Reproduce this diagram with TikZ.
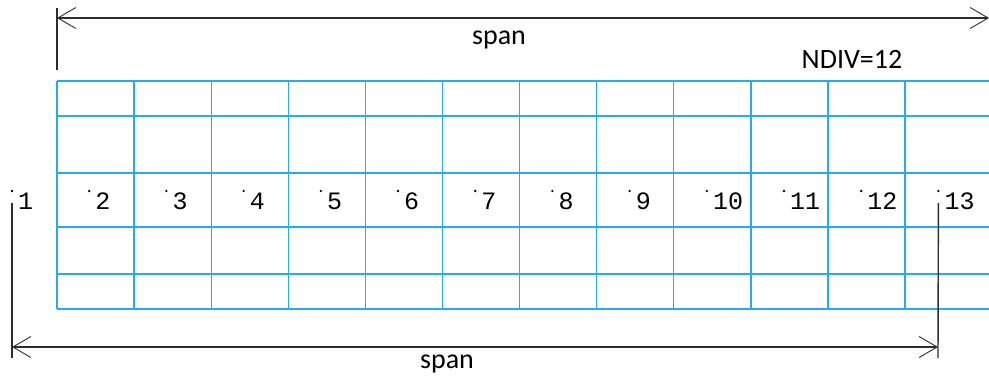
\documentclass[tikz,border=0pt]{standalone}
\usepackage{fontspec}
\setmainfont{Carlito}
\newfontfamily\ptfont{Liberation Mono}
\usepackage{tikz}
\usetikzlibrary{arrows.meta,positioning}

\definecolor{gridblue}{RGB}{40,172,232}
\definecolor{dimgray}{RGB}{45,45,45}

\tikzset{
  gridline/.style={draw=gridblue,line width=1.3pt},
  dimline/.style={draw=dimgray,line width=1.4pt},
  dimarrow/.style={dimline,{Straight Barb[length=18pt,width=21pt,line width=0.9pt]}-{Straight Barb[length=18pt,width=21pt,line width=0.9pt]}},
  ptlabel/.style={font=\ptfont\fontsize{25}{25}\selectfont,inner sep=0pt,anchor=base west},
  dimlabel/.style={font=\fontsize{28}{28}\selectfont,inner sep=0pt},
}

\begin{document}
\begin{tikzpicture}[x=1pt,y=-1pt]
    \useasboundingbox (0,0) rectangle (989,380);

    % mesh
    \foreach \yy in {81,116,173,227,274,309}
        \draw[gridline] (57,\yy) -- (989,\yy);
    \foreach \k in {0,...,11}
        \draw[gridline] ({57+77.1*\k},81) -- ({57+77.1*\k},309);

    % nodes along the span
    \foreach \i in {1,...,13} {
        \coordinate (p\i) at ({12+77.2*(\i-1)},191);
        \fill (p\i) circle (1.3pt);
        \node[ptlabel] (lab\i) at ([xshift=6pt,yshift=-18pt]p\i) {\i};
    }

    % top dimension
    \coordinate (tickA) at (57,8);
    \coordinate (tickB) at (57,70);
    \coordinate (topL) at (57,18);
    \coordinate (topR) at (989,18);
    \draw[dimline] (tickA) -- (tickB);
    \draw[dimarrow] (topL) -- (topR);
    \node[dimlabel] (spanTop) at (499,40) {span};
    \node[dimlabel] (ndiv) at (852,59) {NDIV=12};

    % bottom dimension
    \coordinate (botL) at (12,347);
    \coordinate (botR) at (938,347);
    \coordinate (endL) at (12,358);
    \coordinate (endR) at (938,358);
    \draw[dimline] ([yshift=-12pt]p1) -- (endL);
    \draw[dimline] ([yshift=-12pt]p13) -- (endR);
    \draw[dimarrow] (botL) -- (botR);
    \node[dimlabel] (spanBot) at (447,364) {span};
\end{tikzpicture}
\end{document}
